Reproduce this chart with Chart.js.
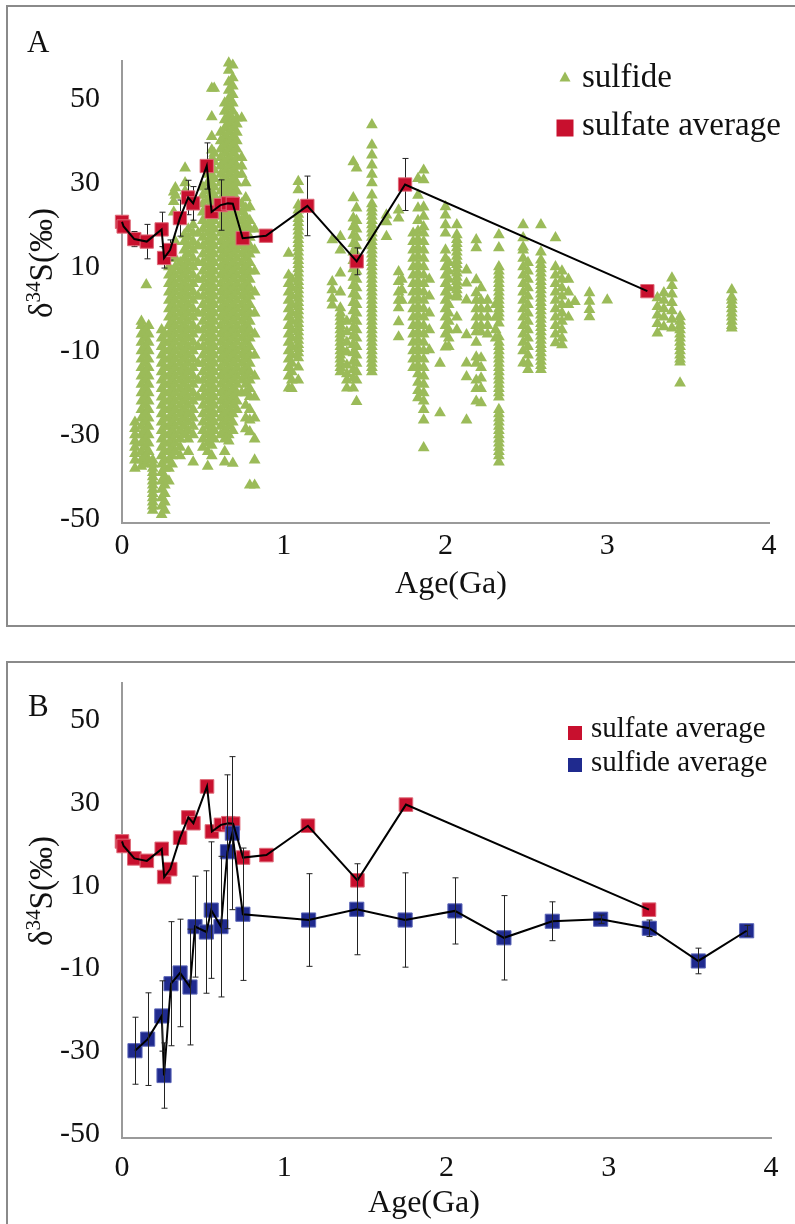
<!DOCTYPE html>
<html>
<head>
<meta charset="utf-8">
<script src="https://cdn.jsdelivr.net/npm/chart.js@4.4.1/dist/chart.umd.min.js"></script>
<style>
  html, body { margin: 0; padding: 0; background: #fff; }
  body { width: 795px; height: 1224px; overflow: hidden; position: relative; }
  .frame { position: absolute; box-sizing: border-box; border: 2px solid #8a8a8a; }
  canvas { position: absolute; left: 0; }
</style>
</head>
<body>
<div class="frame" style="left:6px; top:5px; width:800px; height:622px;"></div>
<div class="frame" style="left:6px; top:661px; width:800px; height:700px;"></div>
<canvas id="chartA" width="795" height="640" style="top:0px; width:795px; height:640px;"></canvas>
<canvas id="chartB" width="795" height="584" style="top:640px; width:795px; height:584px;"></canvas>
<script>
// ---------------- DATA ----------------
const xTicks = [0, 1, 2, 3, 4];
const yTicks = [-50, -30, -10, 10, 30, 50];

// sulfate average (both panels)
const sulfateAge  = [0, 0.01, 0.076, 0.153, 0.245, 0.26, 0.297, 0.358, 0.409, 0.44, 0.524, 0.554, 0.61, 0.655, 0.685, 0.746, 0.89, 1.146, 1.451, 1.75, 3.248];
const sulfateMean = [21.7, 20.6, 17.6, 17.0, 19.9, 13.1, 15.0, 22.6, 27.5, 26.1, 35.0, 24.1, 25.7, 26.1, 26.0, 17.8, 18.4, 25.5, 12.3, 30.6, 5.2];
const sulfateErr  = [0, 0, 1.8, 4.1, 4.1, 2.4, 2.4, 4.3, 4.1, 4.0, 5.5, 0, 6.0, 0, 0, 0, 0, 7.1, 3.2, 6.2, 0];

// sulfide average (panel B)
const sulfideAvgAge  = [0.08, 0.158, 0.245, 0.259, 0.302, 0.358, 0.419, 0.45, 0.52, 0.55, 0.61, 0.65, 0.68, 0.745, 1.15, 1.447, 1.745, 2.052, 2.354, 2.652, 2.95, 3.25, 3.552, 3.85];
const sulfideAvgMean = [-28.9, -26.1, -20.5, -34.9, -12.7, -10.1, -13.5, 1.1, -0.2, 5.1, 1.1, 19.2, 23.7, 4.1, 2.7, 5.3, 2.7, 4.9, -1.6, 2.4, 2.9, 0.7, -7.2, 0.1];
const sulfideAvgErr  = [8.1, 11.2, 8.5, 7.9, 15, 13, 14, 12.2, 14.8, 16.5, 17, 18.6, 18.5, 16, 11.2, 11, 11.4, 8, 10.2, 4.7, 1, 2, 3.1, 1.3];

// individual sulfide analyses (panel A), grouped by age
const sulfideAge = [
  0.08, 0.12, 0.145, 0.15, 0.165, 0.19, 0.245, 0.265,
  0.29, 0.31, 0.32, 0.33, 0.36, 0.385, 0.39, 0.41, 0.44, 0.47,
  0.5, 0.53, 0.555, 0.57, 0.61, 0.635, 0.66, 0.685, 0.71,
  0.74, 0.765, 0.79, 0.82,
  1.03, 1.05, 1.09, 1.3, 1.35, 1.39, 1.43, 1.45, 1.545, 1.635, 1.71, 1.73,
  1.8, 1.83, 1.865, 1.9, 1.966, 2.0, 2.02, 2.07, 2.13, 2.19, 2.22, 2.26, 2.31, 2.33,
  2.48, 2.51, 2.59, 2.68, 2.72, 2.76, 2.8, 2.89, 3.0,
  3.31, 3.35, 3.4, 3.45, 3.77
];
const sulfideValue = [
  [-26, -27.5, -29, -30.5, -32, -33.5, -35, -37],
  [-2, -3, -5, -7, -9, -11, -13, -15, -17, -19, -21, -23, -25, -27, -29, -31, -33, -35, -36.5],
  [-4, -6, -8, -10, -12, -14, -16, -18, -20, -22, -24, -26, -28, -30, -32, -34, -36],
  [6.7],
  [-3, -5, -7, -9, -11, -13, -15, -17, -19, -21, -23, -25, -27, -29, -31, -33, -35],
  [-35, -36, -37, -38, -39, -40, -41, -42, -43, -44, -45, -46, -47],
  [-4, -6, -8, -10, -12, -14, -16, -18, -20, -22, -24, -26, -28, -30, -32, -34, -36, -38, -40, -42, -44, -46, -48],
  [-5, -7, -9, -11, -13, -15, -17, -19, -21, -23, -25, -27, -29, -31, -33, -35, -37, -39, -41, -43, -45, -47],
  [11, 9, 7, 5, 3, 1, -1, -3, -5, -7, -9, -11, -13, -15, -17, -19, -21, -23, -25, -27, -29, -31, -33, -35, -37, -40],
  [13, 10, 8, 6, 4, 2, 0, -2, -4, -6, -8, -10, -12, -14, -16, -18, -20, -22, -24, -26, -28, -30, -32, -34, -36],
  [28.8, 26.5, 24],
  [29.8, 28, 17, 13, 11, 9, 7, 5, 3, 1, -1, -3, -5, -7, -9, -11, -13, -15, -17, -19, -21, -23, -25, -27, -29, -31, -33],
  [12, 10, 8, 6, 4, 2, 0, -2, -4, -6, -8, -10, -12, -14, -16, -18, -20, -22, -24, -26, -28, -30, -32, -34],
  [18.6, 17, 15, 13, 11, 9, 7, 5, 3, 1, -1, -3, -5, -7, -9, -11, -13, -15, -17, -19, -21, -23, -25, -27, -29],
  [34.5, 31, 29],
  [20, 18, 16, 14, 12, 10, 8, 6, 4, 2, 0, -2, -4, -6, -8, -10, -12, -14, -16, -18, -20, -22, -24, -26, -28, -30, -33],
  [21, 19, 17, 15, 13, 11, 9, 7, 5, 3, 1, -1, -3, -5, -7, -9, -11, -13, -15, -17, -19, -21, -23, -25, -27, -29, -35.5],
  [19, 16, 12, 8, 4, 0, -4, -8, -12, -16, -20],
  [30, 28, 26, 24, 22, 20, 18, 16, 14, 12, 10, 8, 6, 4, 2, 0, -2, -4, -6, -8, -10, -12, -14, -16, -18, -20, -22, -24, -26, -28, -30, -32],
  [33, 31, 29, 27, 25, 23, 21, 19, 17, 15, 13, 11, 9, 7, 5, 3, 1, -1, -3, -5, -7, -9, -11, -13, -15, -17, -19, -21, -23, -25, -27, -29, -31, -33, -36.5],
  [53.5, 46.7, 42, 38.8, 36.5, 34.5, 32.5, 30.5, 28.5, 26.5, 24.5, 22.5, 20.5, 18.5, 16.5, 14.5, 12.5, 10.5, 8.5, 6.5, 4.5, 2.5, 0.5, -1.5, -3.5, -5.5, -7.5, -9.5, -11.5, -13.5, -15.5, -17.5, -19.5, -21.5, -23.5, -25.5, -27.5, -29.5, -31.5, -34],
  [53.5, 38, 36, 34, 32, 30, 28, 26, 24, 22, 20, 18, 16, 14, 12, 10, 8, 6, 4, 2, 0, -2, -4, -6, -8, -10, -12, -14, -16, -18, -20, -22, -24, -26, -28, -30],
  [43, 41, 39, 37, 35, 33, 31, 29, 27, 25, 23, 21, 19, 17, 15, 13, 11, 9, 7, 5, 3, 1, -1, -3, -5, -7, -9, -11, -13, -15, -17, -19, -21, -23, -25, -27, -29],
  [50, 48, 46, 44, 42, 40, 38, 36, 34, 32, 30, 28, 26, 24, 22, 20, 18, 16, 14, 12, 10, 8, 6, 4, 2, 0, -2, -4, -6, -8, -10, -12, -14, -16, -18, -20, -22, -24, -26, -28, -30, -33, -35.5],
  [59.5, 57.8, 55, 53, 51, 49, 47, 45, 43, 41, 39, 37, 35, 33, 31, 29, 27, 25, 23, 21, 19, 17, 15, 13, 11, 9, 7, 5, 3, 1, -1, -3, -5, -7, -9, -11, -13, -15, -17, -19, -21, -23, -25, -27, -29, -30.5],
  [59, 56, 54, 52, 50, 48, 46, 44, 42, 40, 38, 36, 34, 32, 30, 28, 26, 24, 22, 20, 18, 16, 14, 12, 10, 8, 6, 4, 2, 0, -2, -4, -6, -8, -10, -12, -14, -16, -18, -20, -22, -24, -26, -28, -35.8],
  [46.4, 45, 43, 41, 39, 37, 35, 33, 31, 29, 27, 25, 23, 21, 19, 17, 15, 13, 11, 9, 7, 5, 3, 1, -1, -3, -5, -7, -9, -11, -13, -15, -17, -19, -21, -23],
  [46.4, 37, 35, 33, 26, 24, 22, 20, 18, 16, 14, 12, 10, 8, 6, 4, 2, 0, -2, -4, -6, -8, -10, -12, -14, -16, -19],
  [31, 27.4, 25, 23, 21, 19, 17, 15, 13, 11, 9, 7, 5, 3, 1, -1, -3, -5, -7, -9, -11, -13, -15, -17, -19, -22, -25, -27.6],
  [25.3, 22, 20, 18, 16, 14, 12, 10, 8, 6, 4, 2, 0, -2, -4, -6, -8, -10, -12, -14, -16, -18, -19.9, -23, -25.5, -28.3, -41],
  [20, 15, 10, 5, 0, -5, -10, -15, -20, -25, -30, -35, -41],
  [14.2, 9, 7, 5, 3, 1, -1, -3, -5, -7, -9, -11, -13, -15, -17.9],
  [8, 6, 4, 2, 0, -2, -4, -6, -8, -10, -12, -14, -16, -18],
  [31.3, 29.3, 25.7, 24.5, 23.5, 22.5, 21.5, 20.5, 19.5, 18.5, 17.5, 16.5, 15.5, 14.5, 13.5, 12.5, 11.5, 10.5, 9.5, 8.5, 7.5, 6.5, 5.5, 4.5, 3.5, 2.5, 1.5, 0.5, -0.5, -1.5, -2.5, -3.5, -4.5, -5.5, -6.5, -7.5, -8.5, -9.5, -10.7, -12.9, -16],
  [17.4, 7.4, 5.5, 3.5, 1.9],
  [18.2, 15, 9.5, 5, 1.2, 0, -1, -2, -3, -4, -5, -6, -7, -8, -9, -10, -11, -12, -13, -14],
  [-2, -4.5, -7, -9.3, -12.4, -14.5, -16, -17.9],
  [36, 27.4, 22.6, 20.5, 18.5, 16.5, 14.5, 12.5, 10.5, 8.5, 6.5, 4.5, 2.5, 0.5, -1.5, -3.5, -5.5, -7.5, -9.5, -11.5, -13.5, -15.5, -17.9],
  [34.5, 25, 22, 20, 18, 16, 14, 12, 10, 8, 6, 4, 2, 0, -2, -4, -6, -8, -10, -12, -14, -16, -21.1],
  [44.8, 40, 37.6, 35.2, 33, 31, 28.1, 26, 25, 24, 23, 22, 21, 20, 19, 18, 17, 16, 15, 14, 13, 12, 11, 10, 9, 8, 7, 6, 5, 4, 3, 2, 1, 0, -1, -2, -3, -4, -5, -6, -7, -8, -9, -10, -11, -12, -13, -14],
  [23.3, 21.7, 18.2],
  [24.5, 22.6, 9.8, 7.5, 5, 3, 1.2, -2.1, -5.7],
  [8, 5.5, 3],
  [19, 17, 15, 13, 11, 9, 7, 5, 3, 1, -1, -3, -5, -7, -9, -11, -13],
  [32, 28, 25, 22, 19.5, 17.5, 15.5, 13.5, 11.5, 9.5, 7.5, 5.5, 3.5, 1.5, -0.5, -2.5, -4.5, -6.5, -8.5, -10.5, -12.5, -14.5, -16.5, -18.5, -20.2],
  [34, 31.7, 25.2, 23, 20.5, 19, 17, 15, 13, 11, 9, 7, 5, 3, 1, -1, -3, -5, -7, -9, -11, -13, -15, -17, -19, -21, -23, -25.5, -32.1],
  [8, 4, 0, -4, -8.8],
  [-12, -23.8],
  [25.3, 23.3, 21, 19, 15, 13, 11, 9, 7, 5, 3, 1, -1, -3, -5, -8.1],
  [12, 10, 8, 6, 4, 2, 0, -2, -4, -6, -8],
  [21, 18.6, 17.5, 16.5, 15.5, 14.5, 13.5, 12.5, 11.5, 10.5, 9.5, 8.5, 7.5, 6.5, 5.5, 4.5, 3.8, -1, -4],
  [10.2, 7.1, 3.1, -5.2, -11.9, -15.2, -25.5],
  [17.4, 15.5, 7.9, 4.8, 3, 1, -1, -3, -4.5, -7, -10.5, -12, -16, -18, -21],
  [6, 3, 1, -1, -3, -4.5, -10.7, -13, -15.5, -18, -21.4],
  [3, 1, -1, -3, -5],
  [2, -1, -4, -6],
  [18.6, 15.5, 11, 10, 9, 8, 7, 6, 5, 4, 3, 2, 1, 0, -1, -2.4, -5.7, -7, -8, -9, -10, -11, -12, -13, -14, -15, -16, -17, -18, -19, -20, -23, -24, -25, -26, -27, -28, -29, -30, -31, -32, -33, -34, -35.5],
  [21, 17.9, 15.7, 15, 13, 11, 9, 7, 5, 3, 1, -1, -3, -5, -7, -9, -11.9],
  [12, 10, 8, 6, 4, 2, 0, -2, -4, -6, -8, -10, -12, -13.5],
  [21, 14.5, 12.6, 11.5, 10.5, 9.5, 8.5, 7.5, 6.5, 5.5, 4.5, 3.5, 2.5, 1.5, 0.5, -0.5, -1.5, -2.5, -3.5, -4.5, -5.5, -6.5, -7.5, -8.5, -9.5, -10.5, -11.5, -12.5, -13.5],
  [17.9, 11, 9, 7, 5, 3, 1, -1, -3, -5, -7.1],
  [10, 8, 6, 4, 2, 0, -2, -4, -6, -7.6],
  [8, 5, 2, -1],
  [2.7],
  [4.8, 2.8, 0.8, -0.9],
  [3.1],
  [3.6, 1.5, -0.5, -2.5, -4.8],
  [4.8, 3, 1, -1, -3.3],
  [8.3, 6.5, 4.5, 2.5, 0.5, -1.5, -3.6],
  [-0.9, -2, -3, -4, -5, -6, -7, -8, -9, -10, -11, -11.7, -16.7],
  [5.5, 3.8, 3, 2, 1, 0, -1, -2, -3, -3.6]
];

// ---------------- STYLE ----------------
const GREEN = '#9BBB59';
const RED = '#C8102E', RED_EDGE = '#DE6A78';
const BLUE = '#1F2A8E', BLUE_EDGE = '#5C66B8';
const FONT = '"Liberation Serif", "Times New Roman", serif';

const toPts = (xs, ys) => xs.map((x, i) => ({ x: x, y: ys[i] }));
const sulfidePoints = [];
sulfideAge.forEach((a, i) => sulfideValue[i].forEach(v => sulfidePoints.push({ x: a, y: v })));

function drawBars(chart, sets) {
  const ctx = chart.ctx, xs = chart.scales.x, ys = chart.scales.y;
  ctx.save();
  ctx.strokeStyle = '#222';
  ctx.lineWidth = 1;
  sets.forEach(s => {
    s.age.forEach((a, i) => {
      const e = s.err[i];
      if (!e) return;
      const px = Math.round(xs.getPixelForValue(a)) + 0.5;
      const y1 = ys.getPixelForValue(s.mean[i] + e), y2 = ys.getPixelForValue(s.mean[i] - e);
      ctx.beginPath();
      ctx.moveTo(px, y1); ctx.lineTo(px, y2);
      ctx.moveTo(px - 3, y1); ctx.lineTo(px + 3, y1);
      ctx.moveTo(px - 3, y2); ctx.lineTo(px + 3, y2);
      ctx.stroke();
    });
  });
  ctx.restore();
}

function drawYTitle(ctx, cx, cy, size) {
  ctx.save();
  ctx.translate(cx, cy);
  ctx.rotate(-Math.PI / 2);
  const big = size + 'px ' + FONT, small = Math.round(size * 0.64) + 'px ' + FONT;
  ctx.font = big;
  const w1 = ctx.measureText('δ').width, w3 = ctx.measureText('S(‰)').width;
  ctx.font = small;
  const w2 = ctx.measureText('34').width;
  let x = -(w1 + w2 + w3) / 2;
  ctx.fillStyle = '#111';
  ctx.textAlign = 'left';
  ctx.textBaseline = 'alphabetic';
  ctx.font = big; ctx.fillText('δ', x, 0); x += w1;
  ctx.font = small; ctx.fillText('34', x, -size * 0.36); x += w2;
  ctx.font = big; ctx.fillText('S(‰)', x, 0);
  ctx.restore();
}

function drawMarker(ctx, m) {
  ctx.save();
  ctx.fillStyle = m.color;
  if (m.shape === 'triangle') {
    ctx.beginPath();
    ctx.moveTo(m.x, m.y - m.size * 0.5);
    ctx.lineTo(m.x + m.size * 0.5, m.y + m.size * 0.4);
    ctx.lineTo(m.x - m.size * 0.5, m.y + m.size * 0.4);
    ctx.closePath();
    ctx.fill();
  } else {
    ctx.fillRect(m.x - m.size / 2, m.y - m.size / 2, m.size, m.size);
  }
  ctx.restore();
}

const overlay = {
  id: 'overlay',
  afterDatasetDraw(chart, args, o) {
    if (o.barsAfter === args.index) drawBars(chart, o.bars);
  },
  afterDatasetsDraw(chart, args, o) {
    if (o.barsAfter === 'all') drawBars(chart, o.bars);
  },
  afterDraw(chart, args, o) {
    const ctx = chart.ctx;
    ctx.save();
    ctx.fillStyle = '#111';
    ctx.textAlign = 'left';
    ctx.textBaseline = 'alphabetic';
    ctx.font = o.letter.size + 'px ' + FONT;
    ctx.fillText(o.letter.text, o.letter.x, o.letter.y);
    o.legend.forEach(it => {
      drawMarker(ctx, it.marker);
      ctx.fillStyle = '#111';
      ctx.font = it.size + 'px ' + FONT;
      ctx.fillText(it.text, it.x, it.y);
    });
    ctx.textAlign = 'center';
    ctx.font = o.xTitle.size + 'px ' + FONT;
    ctx.fillText('Age(Ga)', o.xTitle.x, o.xTitle.y);
    ctx.restore();
    drawYTitle(ctx, o.yTitle.x, o.yTitle.y, o.yTitle.size);
  }
};

function scales(xPad, xH, yW) {
  return {
    x: {
      type: 'linear', min: 0, max: 4,
      grid: { display: false, drawTicks: false },
      border: { display: true, color: '#9a9a9a', width: 2 },
      ticks: { font: { family: FONT, size: 30 }, color: '#111', padding: xPad, autoSkip: false, maxRotation: 0 },
      afterBuildTicks: s => { s.ticks = xTicks.map(v => ({ value: v })); },
      afterFit: s => { s.height = xH; }
    },
    y: {
      type: 'linear', min: -50, max: 60,
      grid: { display: false, drawTicks: false },
      border: { display: true, color: '#9a9a9a', width: 2 },
      ticks: { font: { family: FONT, size: 30 }, color: '#111', padding: 22, autoSkip: false, labelOffset: -4 },
      afterBuildTicks: s => { s.ticks = yTicks.map(v => ({ value: v })); },
      afterFit: s => { s.width = yW; }
    }
  };
}

// ---------------- PANEL A ----------------
new Chart(document.getElementById('chartA'), {
  type: 'scatter',
  data: {
    datasets: [
      { label: 'sulfate average line', data: toPts(sulfateAge, sulfateMean), showLine: true,
        borderColor: '#000', borderWidth: 2, pointRadius: 0, fill: false, order: 1, clip: false },
      { label: 'sulfate average', data: toPts(sulfateAge, sulfateMean), showLine: false,
        pointStyle: 'rect', pointRadius: 9.4, pointBackgroundColor: RED, pointBorderColor: RED_EDGE,
        pointBorderWidth: 1, order: 2, clip: false },
      { label: 'sulfide', data: sulfidePoints, showLine: false,
        pointStyle: 'triangle', pointRadius: 6.8, pointBackgroundColor: GREEN, pointBorderColor: GREEN,
        pointBorderWidth: 0, order: 3, clip: false }
    ]
  },
  options: {
    responsive: false, animation: false, devicePixelRatio: 1,
    layout: { padding: { left: 0, top: 61, right: 26, bottom: 0 } },
    scales: scales(5, 117, 122),
    plugins: {
      legend: { display: false }, tooltip: { enabled: false },
      overlay: {
        barsAfter: 2,
        bars: [{ age: sulfateAge, mean: sulfateMean, err: sulfateErr }],
        letter: { text: 'A', x: 27, y: 52, size: 31 },
        legend: [
          { text: 'sulfide', x: 582, y: 87, size: 33, marker: { shape: 'triangle', color: GREEN, x: 565, y: 77, size: 11 } },
          { text: 'sulfate average', x: 582, y: 135, size: 33, marker: { shape: 'rect', color: RED, x: 565, y: 128, size: 17 } }
        ],
        xTitle: { x: 451, y: 593, size: 32 },
        yTitle: { x: 52, y: 263, size: 33 }
      }
    }
  },
  plugins: [overlay]
});

// ---------------- PANEL B ----------------
new Chart(document.getElementById('chartB'), {
  type: 'scatter',
  data: {
    datasets: [
      { label: 'sulfate average line', data: toPts(sulfateAge, sulfateMean), showLine: true,
        borderColor: '#000', borderWidth: 2, pointRadius: 0, fill: false, order: 1, clip: false },
      { label: 'sulfide average line', data: toPts(sulfideAvgAge, sulfideAvgMean), showLine: true,
        borderColor: '#000', borderWidth: 2, pointRadius: 0, fill: false, order: 2, clip: false },
      { label: 'sulfide average', data: toPts(sulfideAvgAge, sulfideAvgMean), showLine: false,
        pointStyle: 'rect', pointRadius: 10, pointBackgroundColor: BLUE, pointBorderColor: BLUE_EDGE,
        pointBorderWidth: 1, order: 3, clip: false },
      { label: 'sulfate average', data: toPts(sulfateAge, sulfateMean), showLine: false,
        pointStyle: 'rect', pointRadius: 9.6, pointBackgroundColor: RED, pointBorderColor: RED_EDGE,
        pointBorderWidth: 1, order: 4, clip: false }
    ]
  },
  options: {
    responsive: false, animation: false, devicePixelRatio: 1,
    layout: { padding: { left: 0, top: 43, right: 24, bottom: 0 } },
    scales: scales(12, 86, 122),
    plugins: {
      legend: { display: false }, tooltip: { enabled: false },
      overlay: {
        barsAfter: 'all',
        bars: [{ age: sulfideAvgAge, mean: sulfideAvgMean, err: sulfideAvgErr }],
        letter: { text: 'B', x: 28, y: 76, size: 31 },
        legend: [
          { text: 'sulfate average', x: 591, y: 97, size: 29, marker: { shape: 'rect', color: RED, x: 575, y: 93, size: 14 } },
          { text: 'sulfide average', x: 591, y: 131, size: 29, marker: { shape: 'rect', color: BLUE, x: 575, y: 125, size: 14 } }
        ],
        xTitle: { x: 424, y: 572, size: 32 },
        yTitle: { x: 52, y: 251, size: 33 }
      }
    }
  },
  plugins: [overlay]
});
</script>
</body>
</html>
